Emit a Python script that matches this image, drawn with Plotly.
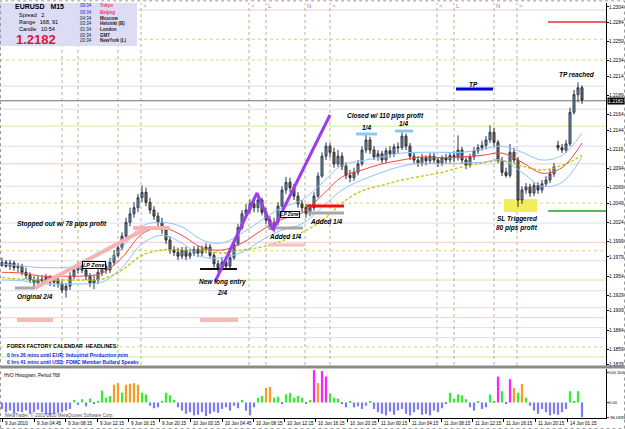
import plotly.graph_objects as go

W, H = 625, 429
BASE = 1.18  # candle / MA values below are pips above 1.1800

# ---------------- candles (30-min candles, pips above 1.1800) ----------------
opens_p = [168,172,167,171,165,167,159,155,149,145,
           150,148,153,146,150,144,136,141,154,162,
           167,162,154,145,149,159,167,162,172,181,
           191,206,224,235,243,256,263,250,240,232,
           224,214,201,188,185,180,188,180,184,189,
           184,189,192,181,170,165,172,167,178,196,
           217,235,240,248,243,253,237,227,219,224,
           245,266,276,269,258,248,243,236,243,258,
           284,310,323,315,300,310,297,285,282,289,
           300,318,331,318,309,313,305,317,313,322,
           321,336,323,310,305,301,308,304,310,305,
           301,308,305,311,308,318,305,298,309,317,
           321,324,331,341,328,305,289,285,315,305,
           253,266,270,262,272,266,274,279,287,324,
           321,318,326,367,390,399]
closes_p = [172,167,171,165,167,159,155,149,145,150,
            148,153,146,150,144,136,141,154,162,167,
            162,154,145,149,159,167,162,172,181,191,
            206,224,235,243,256,263,250,240,232,224,
            214,201,188,185,180,188,180,184,189,184,
            189,192,181,170,165,172,167,178,196,217,
            235,240,248,243,253,237,227,219,224,245,
            266,276,269,258,248,243,236,243,258,284,
            310,323,315,300,310,297,285,282,289,300,
            318,331,318,309,313,305,317,313,322,321,
            336,323,310,305,301,308,304,310,305,301,
            308,305,311,308,318,305,298,309,317,321,
            324,331,341,328,305,289,285,315,305,253,
            266,270,262,272,266,274,279,287,296,321,
            318,326,367,390,399,383]
highs_p = [178,175,175,174,171,170,165,159,154,154,
           155,157,155,154,153,148,145,159,167,172,
           172,166,158,155,163,172,171,178,188,196,
           211,230,243,250,261,272,269,256,245,237,
           230,219,206,193,191,192,192,189,193,193,
           194,197,196,185,175,178,176,183,201,222,
           240,248,254,256,261,256,243,232,230,250,
           271,283,282,274,263,253,248,248,263,289,
           315,328,327,321,318,315,302,292,295,305,
           323,339,335,323,318,317,321,323,326,328,
           343,339,327,315,310,313,311,314,314,309,
           311,313,315,317,337,322,310,313,322,326,
           330,336,350,347,331,309,295,326,321,309,
           271,275,274,276,276,279,284,292,301,330,
           326,331,373,396,406,402]
lows_p = [166,165,162,161,159,155,150,145,140,141,
          144,144,141,140,139,132,126,136,150,158,
          158,149,140,137,144,154,157,158,168,178,
          188,201,219,230,237,250,245,235,227,219,
          209,196,183,180,175,176,175,176,180,179,
          180,184,178,165,159,161,162,163,175,193,
          214,230,235,237,237,233,222,214,211,220,
          243,261,263,253,243,237,230,232,239,256,
          282,305,308,295,296,292,280,276,278,285,
          297,314,313,305,304,301,301,308,309,314,
          318,318,305,300,296,297,298,300,300,296,
          297,300,301,302,304,300,293,295,305,313,
          317,319,327,323,301,284,282,282,301,244,
          248,261,257,258,261,262,270,275,283,317,
          314,314,323,364,380,378]

# ---------------- moving averages (every 5th candle) ----------------
ma_idx = [0,5,10,15,20,25,30,35,40,45,50,55,60,65,70,75,80,85,90,95,
          100,105,110,115,120,125,130,135,140,145]
ma_red_p = [159,158,154,154,154,158,178,209,217,207,191,188,197,214,228,236,259,283,292,300,
            305,309,308,309,311,314,302,288,295,327]
band_up_p = [170,167,165,165,165,167,191,219,224,218,201,197,210,227,243,253,275,298,304,309,
             314,315,315,315,319,323,315,305,311,340]
band_dn_p = [149,148,144,144,144,146,165,196,207,197,179,178,185,201,214,222,243,266,279,289,
             297,301,300,301,302,305,289,271,276,309]
ma_slow_p = [152,150,149,149,149,150,162,181,188,188,188,184,188,192,200,211,226,249,265,272,
             279,284,289,296,301,304,297,292,298,311]

# ---------------- HVO histogram ----------------
hvo_vals = [-20,-30,-25,-35,-28,-30,-25,-35,-30,-22,
            -30,-38,-40,-35,-32,-30,-25,-20,8,-8,
            10,-12,12,-5,5,37,15,20,55,60,
            30,55,58,60,55,30,25,-10,-18,-15,
            5,30,22,8,-15,-25,-35,-30,-40,-38,
            -30,-42,-35,-28,-32,-20,-15,-25,-10,-18,
            8,-25,-40,-15,15,20,45,48,15,18,
            -5,25,30,15,20,15,-3,8,100,60,
            97,80,28,15,12,-5,-15,5,-15,-12,
            -20,-10,3,-20,-30,-35,-40,-28,-38,-25,
            -20,-35,-40,-30,-22,-38,-35,-40,-25,-30,
            -18,-5,30,12,25,22,10,-15,-25,3,
            -20,-15,25,5,80,35,-5,72,45,30,
            57,15,-10,-25,-35,-20,-30,-40,-35,-38,
            -30,-20,35,3,35,-45]

# ---------------- axis labels ----------------
price_ticks = [1.2304,1.2284,1.2259,1.2234,1.2214,1.2189,1.2164,1.2144,1.2119,1.2094,
               1.2069,1.2049,1.2024,1.1999,1.1979,1.1954,1.1929,1.1909,1.1884,1.1859,1.1839]
time_tick_idx = [0,8,15.75,23.75,31.5,39.25,47,55,62.75,70.5,78.25,86.25,94,101.75,
                 109.75,117.5,125.25,133.25,141.25]
time_tick_text = ["9 Jun 2010","9 Jun 04:45","9 Jun 08:15","9 Jun 12:15","9 Jun 16:15",
                  "9 Jun 20:15","10 Jun 00:15","10 Jun 04:45","10 Jun 08:15","10 Jun 12:15",
                  "10 Jun 16:15","10 Jun 20:15","11 Jun 00:15","11 Jun 04:15","11 Jun 08:15",
                  "11 Jun 12:15","11 Jun 16:15","11 Jun 20:15","14 Jun 01:15"]
hvo_tick_vals = [93.7, 0, -45]
hvo_tick_text = ["100.164", "0.00", "-96.0393"]
last_price = 1.2182

# session markers (candle index)
session_idx = [34.75,61.75,66,75.75,82,108.75,113,123,128.75]
session_mark = [">","<","L","N",">","<","L","N",">"]
session_lines = [15,19,29,34.75,61.75,66,75.75,82,108.75,113,123,128.75]

# horizontal level lines (pips above 1.1800)
level_p = [500,462,435,401,371,349,323,300,271,249,223,198,187,174,149,135,113,100,87,74,62,49]
level_kind = ["pink","dot","dot","lav","lav","green","lav","pink","lav","dot","lav","pink",
              "dot","lav","green","lav","lav","pink","lav","lav","dot","green"]

# trade drawings (candle index, price)
zigzag_idx = [53.25, 63.75, 67.75, 82]
zigzag_price = [1.19464, 1.20621, 1.20140, 1.21635]
pink_trend_idx = [8.25, 36.25]
pink_trend_price = [1.19386, 1.20166]
pink_flat_idx = [32.75, 42]
pink_flat_price = 1.20166
orig_mark_idx = [3.25, 8.25]
orig_mark_price = 1.19386
entry_idx = [49.5, 58.75]
entry_price = 1.19633
add1_grey_idx = [66.5, 75.25]
add1_grey_price = 1.20166
add1_pink_idx = [66.5, 75.75]
add1_pink_price = 1.19945
add2_red_idx = [76.25, 85.5]
add2_red_price = 1.20452
add2_grey_price = 1.20361
q1_idx = [88.5, 93.75]
q1_price = 1.21388
q2_idx = [98.25, 102.75]
q2_price = 1.21427
tp_idx = [113.5, 122.75]
tp_price = 1.21973
sl_box_idx = [125.5, 133.75]
sl_box_price = [1.20374, 1.20543]
red_lvl_idx = [136.5, 151]
red_lvl_price = 1.22844
green_lvl_idx = [136.5, 151]
green_lvl_price = 1.20387
pink_low_a_idx = [3.75, 12.75]
pink_low_b_idx = [49.5, 59]
pink_low_price = 1.18970


def P(v):
    return BASE + v / 10000.0


def PX(x):
    return x / W


def PY(y):
    return 1 - y / H


FONT = "Liberation Sans"
candle_x = list(range(len(closes_p)))

fig = go.Figure()

# moving averages
fig.add_trace(go.Scatter(x=ma_idx, y=[P(v) for v in ma_slow_p], mode="lines",
                         line=dict(color="#c8c000", width=1.3, dash="3px,2px", shape="spline"),
                         hoverinfo="skip", showlegend=False))
for arr, col in ((band_up_p, "#8cc4ff"), (band_dn_p, "#8cc4ff"), (ma_red_p, "#f04a4a")):
    fig.add_trace(go.Scatter(x=ma_idx, y=[P(v) for v in arr], mode="lines",
                             line=dict(color=col, width=1, shape="spline"),
                             hoverinfo="skip", showlegend=False))

# candles
fig.add_trace(go.Candlestick(
    x=candle_x, open=[P(v) for v in opens_p], high=[P(v) for v in highs_p],
    low=[P(v) for v in lows_p], close=[P(v) for v in closes_p],
    increasing=dict(line=dict(color="#2e3a4e", width=1), fillcolor="#7790b4"),
    decreasing=dict(line=dict(color="#2a2a2a", width=1), fillcolor="#767676"),
    whiskerwidth=0, showlegend=False, hoverinfo="skip"))


def seg(xs, price, color, width):
    fig.add_trace(go.Scatter(x=xs, y=[price, price], mode="lines",
                             line=dict(color=color, width=width),
                             hoverinfo="skip", showlegend=False))


# drawings
seg(orig_mark_idx, orig_mark_price, "#a8a8a8", 3)
fig.add_trace(go.Scatter(x=pink_trend_idx, y=pink_trend_price, mode="lines",
                         line=dict(color="#f7b2b2", width=4), hoverinfo="skip", showlegend=False))
seg(pink_flat_idx, pink_flat_price, "#f7b2b2", 4)
seg(entry_idx, entry_price, "#111111", 2)
seg(add1_grey_idx, add1_grey_price, "#a8a8a8", 3)
seg(add1_pink_idx, add1_pink_price, "#f7c0c0", 3)
seg(add2_red_idx, add2_red_price, "#ee1111", 3)
seg(add2_red_idx, add2_grey_price, "#a8a8a8", 3)
seg(q1_idx, q1_price, "#8cc8f4", 3)
seg(q2_idx, q2_price, "#8cc8f4", 3)
seg(tp_idx, tp_price, "#0000dd", 3)
seg(red_lvl_idx, red_lvl_price, "#e83030", 1.5)
seg(green_lvl_idx, green_lvl_price, "#22a022", 1.5)
seg(pink_low_a_idx, pink_low_price, "#f7b8b8", 4)
seg(pink_low_b_idx, pink_low_price, "#f7b8b8", 4)
fig.add_trace(go.Scatter(x=zigzag_idx, y=zigzag_price, mode="lines",
                         line=dict(color="#9a3cf0", width=3), hoverinfo="skip", showlegend=False))

# histogram
hvo_colors = []
for v in hvo_vals:
    if v >= 70:
        hvo_colors.append("#ff20ff")
    elif v >= 40:
        hvo_colors.append("#ff9a20")
    elif v > 0:
        hvo_colors.append("#30f030")
    else:
        hvo_colors.append("#7c7cf4")
fig.add_trace(go.Bar(x=candle_x, y=hvo_vals, xaxis="x2", yaxis="y2", width=0.55,
                     marker=dict(color=hvo_colors, line=dict(width=0)),
                     hoverinfo="skip", showlegend=False))

shapes = []
kind_style = {"pink": ("#f5cccc", "solid"), "lav": ("#dcdcf6", "solid"),
              "green": ("#c8f0a0", "solid"), "dot": ("#c8dc80", "dot")}
for v, k in zip(level_p, level_kind):
    c, d = kind_style[k]
    shapes.append(dict(type="line", xref="paper", x0=0, x1=606 / W, yref="y", y0=P(v), y1=P(v),
                       line=dict(color=c, width=1, dash=d), layer="below"))
for sx in session_lines:
    shapes.append(dict(type="line", xref="x", x0=sx, x1=sx, yref="paper", y0=PY(365), y1=PY(3),
                       line=dict(color="#b4b48a", width=1, dash="dot"), layer="below"))
# current price line
shapes.append(dict(type="line", xref="paper", x0=0, x1=606 / W, yref="y", y0=last_price,
                   y1=last_price, line=dict(color="#707070", width=1), layer="below"))
# SL yellow box
shapes.append(dict(type="rect", xref="x", x0=sl_box_idx[0], x1=sl_box_idx[1], yref="y",
                   y0=sl_box_price[0], y1=sl_box_price[1], fillcolor="#f2ee5a",
                   line=dict(width=0), layer="below"))
# info box
shapes.append(dict(type="rect", xref="paper", yref="paper", x0=0, x1=PX(137), y0=PY(46), y1=PY(3),
                   fillcolor="#dcdcf4", line=dict(width=0)))
# separator between panels
shapes.append(dict(type="rect", xref="paper", yref="paper", x0=0, x1=1, y0=PY(368.5), y1=PY(365.5),
                   fillcolor="#8c8c8c", line=dict(width=0)))
# outer frame
shapes.append(dict(type="rect", xref="paper", yref="paper", x0=0.0008, x1=0.9992, y0=0.001, y1=0.998,
                   line=dict(color="#9a9a9a", width=1, dash="dot")))

ann = []


def txt(x, y, s, size=6.5, color="#000000", anchor="center", **kw):
    d = dict(x=PX(x), y=PY(y), xref="paper", yref="paper", text=s, showarrow=False,
             xanchor=anchor, yanchor="middle", font=dict(family=FONT, size=size, color=color))
    d.update(kw)
    ann.append(d)


BI = lambda s: "<b><i>" + s + "</i></b>"

txt(62, 224, BI("Stopped out w/ 78 pips profit"))
txt(35, 297, BI("Original 2/4"))
txt(94, 264.5, BI("LP Zone"), size=5.5, bordercolor="#000000", borderwidth=1, borderpad=0,
    bgcolor="#ffffff")
txt(222, 282, BI("New long entry"))
txt(222, 292, BI("2/4"))
txt(285, 237, BI("Added 1/4"))
txt(289.5, 214, BI("LP Zone"), size=4.5, bordercolor="#000000", borderwidth=1, borderpad=0,
    bgcolor="#ffffff")
txt(326, 221, BI("Added 1/4"))
txt(385, 116, BI("Closed w/ 110 pips profit"))
txt(366, 127, BI("1/4"))
txt(403, 124, BI("1/4"))
txt(473, 84, BI("TP"))
txt(577, 75, BI("TP reached"))
txt(517, 219, BI("SL Triggered"))
txt(517, 228, BI("80 pips profit"))

# info panel
txt(13, 6.5, "<b>EURUSD   M15</b>", size=7, anchor="left")
txt(17, 15, "Spread   2", size=5.5, anchor="left")
txt(17, 22, "Range   168, 91", size=5.5, anchor="left")
txt(17, 29, "Candle   10:54", size=5.5, anchor="left")
txt(14, 39.5, "<b>1.2182</b>", size=13, color="#e0123c", anchor="left")
clock_times = ["09:34", "09:34", "04:34", "03:34", "01:34", "00:34", "20:34"]
clock_cities = ["Tokyo", "Beijing", "Moscow", "Helsinki (B)", "London", "GMT", "NewYork (L)"]
clock_y = [6, 12, 18, 24, 30, 35.5, 41]
for i, (t, c, yy) in enumerate(zip(clock_times, clock_cities, clock_y)):
    tc = "#2020e0" if i < 2 else "#202020"
    cc = "#ff2a6a" if i < 2 else "#202020"
    txt(78, yy, t, size=4.5, color=tc, anchor="left")
    txt(98, yy, "<b>" + c + "</b>", size=4.5, color=cc, anchor="left")

# session markers
for sx, m in zip(session_idx, session_mark):
    ann.append(dict(x=sx, y=PY(6), xref="x", yref="paper", text=m, showarrow=False,
                    xanchor="left", yanchor="middle",
                    font=dict(family=FONT, size=6, color="#a070e0")))

# calendar headlines
txt(5, 346, "<b>FOREX FACTORY CALENDAR  HEADLINES:</b>", size=5.3, anchor="left")
txt(5, 355, "<b>0 hrs 26 mins until EUR: Industrial Production m/m</b>", size=5,
    color="#1a1ae6", anchor="left")
txt(5, 362, "<b>0 hrs 41 mins until USD: FOMC Member Bullard Speaks</b>", size=5,
    color="#1a1ae6", anchor="left")

# histogram labels
txt(2, 375, "HVO Histogram, Period 768", size=4.5, anchor="left")
txt(3, 415, "MetaTrader, \u00a9 2001-2010 MetaQuotes Software Corp.", size=4.5,
    color="#505050", anchor="left")

# current price box
ann.append(dict(x=PX(607), y=last_price, xref="paper", yref="y", text="1.2182", showarrow=False,
                xanchor="left", yanchor="middle", bgcolor="#000000", borderpad=0,
                font=dict(family=FONT, size=5, color="#ffffff")))

# time labels
for tx, tt in zip(time_tick_idx, time_tick_text):
    ann.append(dict(x=tx, y=PY(423.5), xref="x2", yref="paper", text=tt, showarrow=False,
                    xanchor="left", yanchor="middle", xshift=1,
                    font=dict(family=FONT, size=4.6, color="#000000")))

xdom = [0, 606 / W]
fig.update_layout(
    width=W, height=H, margin=dict(l=0, r=0, t=0, b=0),
    paper_bgcolor="#ffffff", plot_bgcolor="#ffffff",
    showlegend=False, shapes=shapes, annotations=ann, hovermode=False,
    xaxis=dict(domain=xdom, range=[-0.5, 151], anchor="y", showticklabels=False,
               showgrid=False, zeroline=False, showline=False, ticks="",
               rangeslider=dict(visible=False), fixedrange=True),
    yaxis=dict(domain=[PY(366), PY(3)], range=[P(37.2), P(509.1)], side="right", anchor="x",
               tickvals=price_ticks, ticktext=["%.4f" % v for v in price_ticks],
               ticks="outside", ticklen=2, tickcolor="#000000", ticklabelstandoff=-1,
               tickfont=dict(family=FONT, size=4.8, color="#000000"),
               showgrid=False, zeroline=False, showline=True, linecolor="#000000",
               linewidth=1, automargin=False, fixedrange=True),
    xaxis2=dict(domain=xdom, range=[-0.5, 151], anchor="y2", showticklabels=False,
                tickvals=time_tick_idx, ticks="outside", ticklen=3, tickcolor="#000000",
                showgrid=False, zeroline=False, showline=True, linecolor="#000000",
                fixedrange=True),
    yaxis2=dict(domain=[PY(418), PY(369)], range=[-48, 103.5], side="right", anchor="x2",
                tickvals=hvo_tick_vals, ticktext=hvo_tick_text, ticks="outside", ticklen=2,
                ticklabelstandoff=-1,
                tickfont=dict(family=FONT, size=4.2, color="#000000"),
                showgrid=False, zeroline=False, showline=True, linecolor="#000000",
                automargin=False, fixedrange=True),
)

fig.write_html("out.html", config={"displayModeBar": False})
